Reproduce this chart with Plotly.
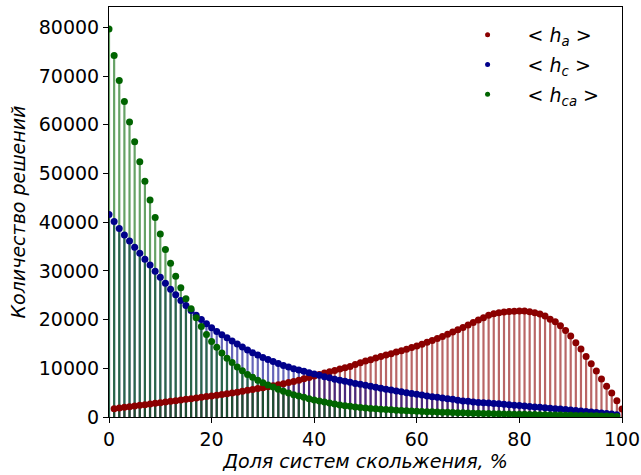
import plotly.graph_objects as go

# Share of slip systems, % (h_a is defined on 1..100, h_c and h_ca on 0..99)
x_a = list(range(1, 101))
x_c = list(range(0, 100))
x_ca = list(range(0, 100))

# Number of solutions for <h_a>
h_a = [
    1700, 1840, 1980, 2110, 2250, 2390, 2530, 2670, 2800, 2940,
    3080, 3220, 3360, 3490, 3630, 3770, 3910, 4050, 4190, 4330,
    4480, 4620, 4770, 4920, 5100, 5290, 5470, 5660, 5840, 6030,
    6220, 6420, 6620, 6830, 7070, 7300, 7570, 7840, 8120, 8430,
    8750, 9030, 9280, 9560, 9840, 10110, 10370, 10770, 11140, 11490,
    11780, 12110, 12450, 12740, 13000, 13330, 13600, 13900, 14250, 14590,
    14940, 15350, 15700, 16100, 16520, 17000, 17450, 17900, 18400, 18900,
    19400, 19900, 20400, 20880, 21190, 21390, 21570, 21680, 21740, 21770,
    21760, 21640, 21430, 21130, 20720, 20100, 19550, 18730, 17780, 16610,
    15240, 13950, 12450, 10930, 9430, 7790, 6300, 4920, 3340, 1640,
]

# Number of solutions for <h_c>
h_c = [
    41570, 40130, 38700, 37400, 36160, 34870, 33640, 32410, 31200, 29950,
    28710, 27480, 26250, 25090, 23930, 22910, 21880, 20920, 20030, 19140,
    18320, 17570, 16890, 16250, 15590, 14970, 14360, 13740, 13190, 12720,
    12240, 11830, 11420, 11010, 10600, 10260, 9910, 9640, 9370, 9090,
    8820, 8550, 8290, 8050, 7760, 7530, 7320, 7120, 6900, 6710,
    6500, 6300, 6090, 5890, 5690, 5530, 5340, 5190, 5000, 4850,
    4660, 4510, 4320, 4170, 4040, 3900, 3750, 3620, 3440, 3300,
    3210, 3090, 3000, 2920, 2850, 2780, 2700, 2610, 2520, 2430,
    2340, 2250, 2160, 2070, 1980, 1890, 1800, 1710, 1620, 1530,
    1440, 1340, 1240, 1140, 1040, 940, 840, 730, 610, 460,
]

# Number of solutions for <h_ca>
h_ca = [
    79700, 74250, 69120, 64810, 60570, 56540, 52440, 48400, 44570, 40950,
    37560, 34420, 31550, 28880, 26530, 24270, 22250, 20370, 18600, 16960,
    15520, 14300, 13130, 12060, 11180, 10260, 9500, 8750, 8140, 7530,
    7040, 6560, 6150, 5680, 5270, 4920, 4570, 4310, 4040, 3750,
    3490, 3280, 3080, 2870, 2670, 2480, 2330, 2200, 2070, 1960,
    1860, 1770, 1690, 1610, 1540, 1470, 1410, 1350, 1290, 1240,
    1190, 1140, 1100, 1060, 1020, 980, 950, 910, 880, 850,
    820, 790, 760, 730, 710, 680, 650, 630, 600, 580,
    560, 540, 510, 490, 470, 450, 430, 410, 390, 370,
    350, 330, 310, 290, 270, 250, 220, 190, 160, 120,
]

x_ticks = [0, 20, 40, 60, 80, 100]
y_ticks = [0, 10000, 20000, 30000, 40000, 50000, 60000, 70000, 80000]
y_tick_labels = [str(v) for v in y_ticks]

series = [
    (x_a, h_a, "139,0,0", "&lt; <i>h</i><sub><i>a</i></sub> &gt;"),
    (x_c, h_c, "0,0,139", "&lt; <i>h</i><sub><i>c</i></sub> &gt;"),
    (x_ca, h_ca, "0,100,0", "&lt; <i>h</i><sub><i>ca</i></sub> &gt;"),
]


def stem_path(xs, ys):
    """Vertical segments from the zero line up to each value."""
    px, py = [], []
    for xv, yv in zip(xs, ys):
        px += [xv, xv, None]
        py += [0, yv, None]
    return px, py


fig = go.Figure()

# stems first, in series order, so later series overlay earlier ones
for xs, ys, rgb, name in series:
    sx, sy = stem_path(xs, ys)
    fig.add_trace(go.Scatter(
        x=sx, y=sy, mode="lines",
        line=dict(color=f"rgba({rgb},0.6)", width=2.2),
        hoverinfo="skip", showlegend=False,
    ))

# markers on top of all stems
for i, (xs, ys, rgb, name) in enumerate(series):
    fig.add_trace(go.Scatter(
        x=xs, y=ys, mode="markers", name=name,
        marker=dict(color=f"rgb({rgb})", size=7, line=dict(width=0)),
        legendgroup=f"g{i}", showlegend=False,
    ))
    # legend entry with a smaller dot
    fig.add_trace(go.Scatter(
        x=[None], y=[None], mode="markers", name=name,
        marker=dict(color=f"rgb({rgb})", size=5, line=dict(width=0)),
        legendgroup=f"g{i}", showlegend=True,
    ))

axis_common = dict(
    showline=True, linecolor="black", linewidth=1, mirror=True,
    ticks="outside", ticklen=5, tickwidth=1, tickcolor="black",
    showgrid=False, zeroline=False, automargin=False,
    tickfont=dict(size=19, color="black"),
)

fig.update_layout(
    width=641, height=475,
    margin=dict(l=109, r=19, t=7, b=58),
    paper_bgcolor="white", plot_bgcolor="white",
    font=dict(family="DejaVu Sans", color="black"),
    xaxis=dict(
        range=[0, 100], tickvals=x_ticks,
        title=dict(text="<i>Доля систем скольжения, %</i>",
                   font=dict(size=19), standoff=4),
        **axis_common,
    ),
    yaxis=dict(
        range=[0, 84200], tickvals=y_ticks, ticktext=y_tick_labels,
        title=dict(text="<i>Количество решений</i>",
                   font=dict(size=19), standoff=8),
        **axis_common,
    ),
    legend=dict(
        x=0.66, y=0.978, xanchor="left", yanchor="top",
        bgcolor="rgba(255,255,255,0)", borderwidth=0,
        font=dict(size=19), itemwidth=70, tracegroupgap=2,
    ),
)

fig.write_html("out.html")
